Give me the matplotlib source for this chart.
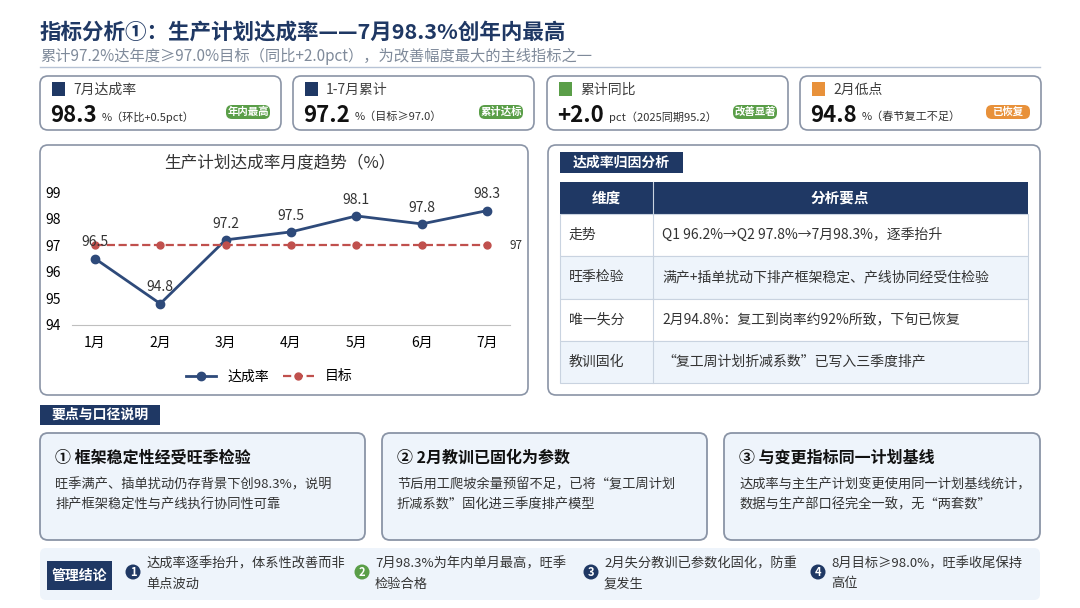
import matplotlib.pyplot as plt
from matplotlib.patches import FancyBboxPatch, Rectangle, Circle

plt.rcParams['font.family'] = ['Noto Sans CJK SC', 'DejaVu Sans']

months = ['1月', '2月', '3月', '4月', '5月', '6月', '7月']
rate = [96.5, 94.8, 97.2, 97.5, 98.1, 97.8, 98.3]
target = [97.0] * 7

NAVY = '#1f3864'
LINE = '#2e4a7a'
RED = '#c0504d'
GREEN = '#5a9e48'
ORANGE = '#e8913a'
LIGHT = '#eef4fb'
BORDER = '#8a94a6'

fig = plt.figure(figsize=(10.8, 6.08), dpi=100)
bg = fig.add_axes([0, 0, 1, 1])
bg.set_xlim(0, 1080)
bg.set_ylim(608, 0)
bg.axis('off')


def box(x0, y0, x1, y1, fc='white', ec=BORDER, lw=1.2, r=8):
    bg.add_patch(FancyBboxPatch((x0, y0), x1 - x0, y1 - y0,
                                boxstyle=f'round,pad=0,rounding_size={r}',
                                fc=fc, ec=ec, lw=lw))


def tag(x0, y0, x1, y1, text, fc=NAVY, size=10):
    bg.add_patch(Rectangle((x0, y0), x1 - x0, y1 - y0, fc=fc, ec='none'))
    bg.text((x0 + x1) / 2, (y0 + y1) / 2, text, color='white', fontsize=size,
            fontweight='bold', ha='center', va='center')


# title
bg.text(40, 32, '指标分析①：生产计划达成率——7月98.3%创年内最高', fontsize=15.5,
        fontweight='bold', color=NAVY, va='center')
bg.text(40, 56, '累计97.2%达年度≥97.0%目标（同比+2.0pct），为改善幅度最大的主线指标之一',
        fontsize=11, color='#7f8a9a', va='center')
bg.plot([40, 1040], [67, 67], color='#b8c4d6', lw=1)

# KPI cards
cards = [
    (40, '7月达成率', '98.3', '%（环比+0.5pct）', '年内最高', GREEN, NAVY),
    (293, '1-7月累计', '97.2', '%（目标≥97.0）', '累计达标', GREEN, NAVY),
    (547, '累计同比', '+2.0', 'pct（2025同期95.2）', '改善显著', GREEN, GREEN),
    (800, '2月低点', '94.8', '%（春节复工不足）', '已恢复', ORANGE, ORANGE),
]
for x, lab, val, note, badge, bc, ic in cards:
    box(x, 76, x + 241, 130)
    bg.add_patch(Rectangle((x + 12, 82), 13, 14, fc=ic, ec='none'))
    bg.text(x + 33, 90, lab, fontsize=10, color='#404040', va='center')
    bg.text(x + 10, 115, val, fontsize=16, fontweight='bold', color='#111111', va='center')
    bg.text(x + 10 + len(val) * 12 + 4, 117, note, fontsize=8, color='#333333', va='center')
    bg.add_patch(FancyBboxPatch((x + 186, 105), 44, 14,
                                boxstyle='round,pad=0,rounding_size=6', fc=bc, ec='none'))
    bg.text(x + 208, 112, badge, fontsize=7.5, color='white', fontweight='bold',
            ha='center', va='center')

# chart panel
box(40, 145, 528, 395)
bg.text(280, 163, '生产计划达成率月度趋势（%）', fontsize=12, color='#333333',
        ha='center', va='center')
ax = fig.add_axes([72 / 1080, 1 - 325 / 608, (510 - 72) / 1080, (325 - 192) / 608])
xs = range(len(months))
ax.plot(xs, rate, color=LINE, lw=2, marker='o', ms=6, label='达成率')
ax.plot(xs, target, color=RED, lw=1.6, ls='--', marker='o', ms=5, label='目标')
for i, v in enumerate(rate):
    ax.text(i, v + 0.35, f'{v:g}', ha='center', va='bottom', fontsize=10, color='#333333')
ax.text(6.35, 97, '97', fontsize=8.5, va='center', color='#333333')
ax.set_ylim(94, 99)
ax.set_xlim(-0.35, 6.35)
ax.set_xticks(list(xs), months)
ax.set_yticks(range(94, 100))
ax.tick_params(length=0, labelsize=10, pad=8)
for s in ['top', 'right']:
    ax.spines[s].set_visible(False)
ax.spines['left'].set_visible(False)
ax.spines['bottom'].set_color('#bfbfbf')
ax.patch.set_alpha(0)
ax.legend(loc='upper center', bbox_to_anchor=(0.45, -0.24), ncol=2, frameon=False,
          fontsize=10, handlelength=2.2, columnspacing=1.0)

# attribution table
box(548, 145, 1040, 395)
tag(560, 152, 683, 173, '达成率归因分析')
rows = [
    ('走势', 'Q1 96.2%→Q2 97.8%→7月98.3%，逐季抬升'),
    ('旺季检验', '满产+插单扰动下排产框架稳定、产线协同经受住检验'),
    ('唯一失分', '2月94.8%：复工到岗率约92%所致，下旬已恢复'),
    ('教训固化', '“复工周计划折减系数”已写入三季度排产'),
]
bg.add_patch(Rectangle((560, 182), 468, 32, fc=NAVY, ec='none'))
bg.text(606, 198, '维度', color='white', fontsize=10.5, fontweight='bold', ha='center', va='center')
bg.text(840, 198, '分析要点', color='white', fontsize=10.5, fontweight='bold', ha='center', va='center')
y = 214
for i, (a, b) in enumerate(rows):
    fc = LIGHT if i % 2 else 'white'
    bg.add_patch(Rectangle((560, y), 468, 42.25, fc=fc, ec='#c9d3e0', lw=0.8))
    bg.plot([653, 653], [y, y + 42.25], color='#c9d3e0', lw=0.8)
    bg.text(569, y + 21, a, fontsize=10, color='#333333', va='center')
    bg.text(662, y + 21, b, fontsize=10, color='#333333', va='center')
    y += 42.25
bg.plot([653, 653], [182, 214], color='#c9d3e0', lw=0.8)

# key points
tag(40, 405, 160, 425, '要点与口径说明')
points = [
    (40, 365, '① 框架稳定性经受旺季检验', ['旺季满产、插单扰动仍存背景下创98.3%，说明', '排产框架稳定性与产线执行协同性可靠']),
    (382, 707, '② 2月教训已固化为参数', ['节后用工爬坡余量预留不足，已将“复工周计划', '折减系数”固化进三季度排产模型']),
    (724, 1040, '③ 与变更指标同一计划基线', ['达成率与主生产计划变更使用同一计划基线统计，', '数据与生产部口径完全一致，无“两套数”']),
]
for x0, x1, head, lines in points:
    box(x0, 433, x1, 540, fc=LIGHT, ec=BORDER, lw=1.3)
    bg.text(x0 + 15, 458, head, fontsize=11.5, fontweight='bold', color='#111111', va='center')
    for j, ln in enumerate(lines):
        bg.text(x0 + 15, 485 + j * 20, ln, fontsize=9.5, color='#333333', va='center')

# management conclusion
box(40, 548, 1040, 600, fc=LIGHT, ec='none', r=6)
tag(47, 561, 112, 590, '管理结论', size=10)
concl = [
    (133, NAVY, ['达成率逐季抬升，体系性改善而非', '单点波动']),
    (362, GREEN, ['7月98.3%为年内单月最高，旺季', '检验合格']),
    (591, NAVY, ['2月失分教训已参数化固化，防重', '复发生']),
    (818, NAVY, ['8月目标≥98.0%，旺季收尾保持', '高位']),
]
for k, (cx, c, lines) in enumerate(concl):
    bg.add_patch(Circle((cx, 572), 7.5, fc=c, ec='none'))
    bg.text(cx, 572, str(k + 1), color='white', fontsize=8, fontweight='bold', ha='center', va='center')
    for j, ln in enumerate(lines):
        bg.text(cx + 13, 564 + j * 20, ln, fontsize=9.5, color='#333333', va='center')

fig.savefig('out.png', dpi=100)
